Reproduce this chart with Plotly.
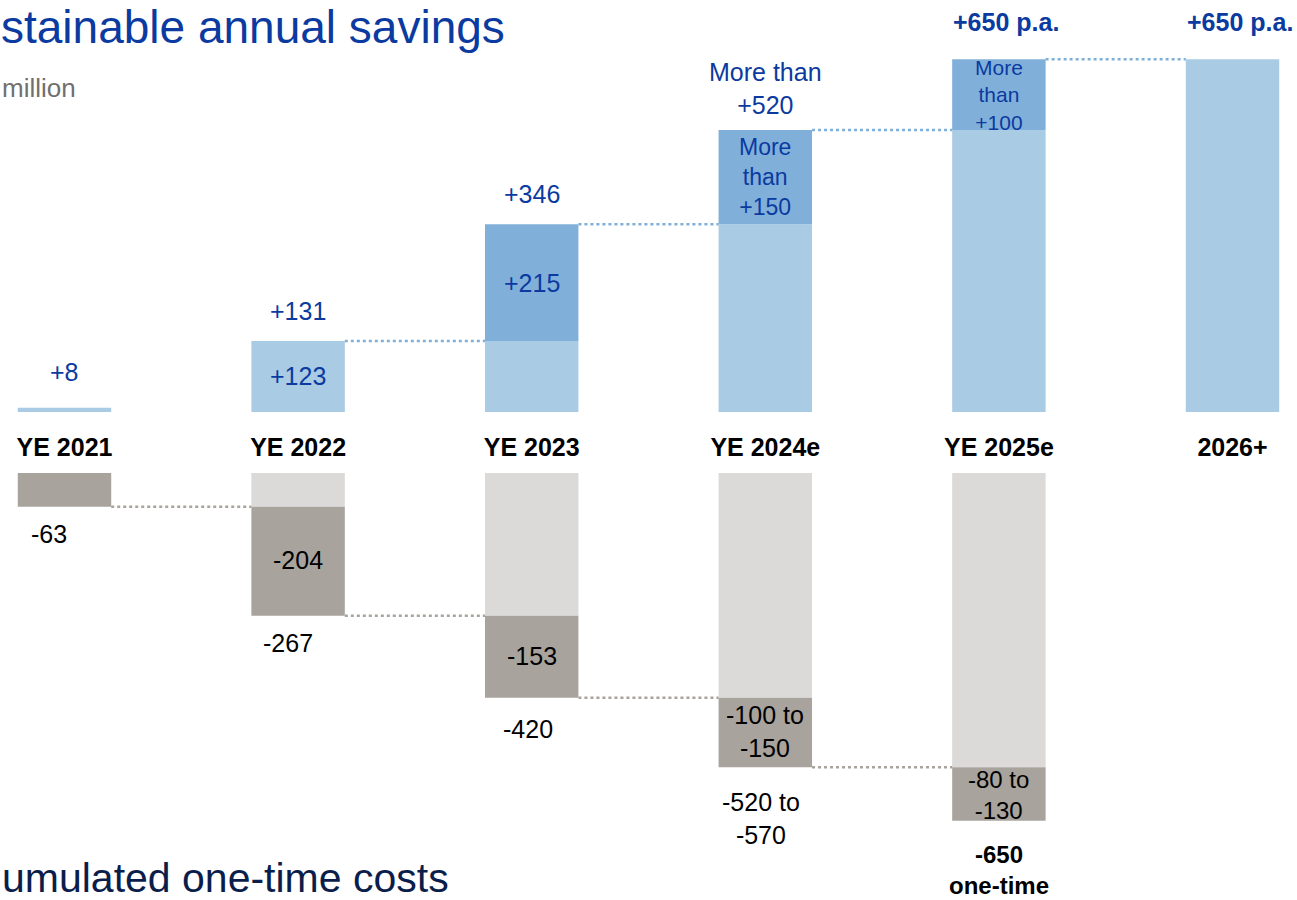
import plotly.graph_objects as go

# Data
categories = ["YE 2021", "YE 2022", "YE 2023", "YE 2024e", "YE 2025e", "2026+"]

# savings (EUR m): light part = level carried over, dark part = increment of the year
savings_light = [8, 131, 131, 346, 520, 650]
savings_step = [0, 0, 215, 174, 130, 0]
savings_total = [8, 131, 346, 520, 650, 650]
savings_total_labels = ["+8", "+131", "+346", "More than<br>+520", "<b>+650 p.a.</b>", "<b>+650 p.a.</b>"]
savings_step_labels = ["", "+123", "+215", "More<br>than<br>+150", "More<br>than<br>+100", ""]

# one-time costs (cumulated)
cost_categories = categories[:5]
cost_light = [0, -63, -267, -420, -550]
cost_step = [-63, -204, -153, -130, -100]
cost_total = [-63, -267, -420, -550, -650]
cost_total_labels = ["-63", "-267", "-420", "-520 to<br>-570", "<b>-650<br>one-time</b>"]
cost_step_labels = ["", "-204", "-153", "-100 to<br>-150", "-80 to<br>-130"]

FONT = "Liberation Sans, Arial, sans-serif"
BLUE_TXT = "#0B3AA0"
LIGHT_BLUE = "#AACBE4"
DARK_BLUE = "#80B0D9"
LIGHT_GREY = "#DBDAD8"
DARK_GREY = "#A8A39D"
W = 0.40

xs = list(range(len(categories)))
xc = list(range(len(cost_categories)))

fig = go.Figure()

# top panel bars
fig.add_trace(go.Bar(x=xs, y=savings_light, base=0, width=W,
                     marker=dict(color=LIGHT_BLUE, line_width=0),
                     xaxis="x", yaxis="y", hoverinfo="skip"))
fig.add_trace(go.Bar(x=xs, y=savings_step, base=savings_light, width=W,
                     marker=dict(color=DARK_BLUE, line_width=0),
                     xaxis="x", yaxis="y", hoverinfo="skip"))

# bottom panel bars
fig.add_trace(go.Bar(x=xc, y=cost_light, base=0, width=W,
                     marker=dict(color=LIGHT_GREY, line_width=0),
                     xaxis="x", yaxis="y2", hoverinfo="skip"))
fig.add_trace(go.Bar(x=xc, y=cost_step, base=cost_light, width=W,
                     marker=dict(color=DARK_GREY, line_width=0),
                     xaxis="x", yaxis="y2", hoverinfo="skip"))

# dotted connectors
for i in range(1, len(xs) - 1):
    fig.add_trace(go.Scatter(x=[xs[i] + W / 2, xs[i + 1] - W / 2],
                             y=[savings_total[i], savings_total[i]],
                             mode="lines", line=dict(color=DARK_BLUE, width=2.5, dash="dot"),
                             xaxis="x", yaxis="y", hoverinfo="skip"))
for i in range(len(xc) - 1):
    fig.add_trace(go.Scatter(x=[xc[i] + W / 2, xc[i + 1] - W / 2],
                             y=[cost_total[i], cost_total[i]],
                             mode="lines", line=dict(color=DARK_GREY, width=2.5, dash="dot"),
                             xaxis="x", yaxis="y2", hoverinfo="skip"))

ann = []
# labels above savings bars
top_shift = [20, 14, 14, 9, 21, 21]
for i, t in enumerate(savings_total_labels):
    bold = t.startswith("<b>")
    ann.append(dict(x=xs[i], y=savings_total[i], xref="x", yref="y", text=t,
                    showarrow=False, yanchor="bottom", yshift=top_shift[i],
                    xshift=7 if bold else 0,
                    font=dict(size=25, color=BLUE_TXT, family=FONT)))
# labels inside savings bars
for i, t in enumerate(savings_step_labels):
    if not t:
        continue
    if savings_step[i]:
        yc = savings_light[i] + savings_step[i] / 2
    else:
        yc = savings_light[i] / 2
    size = 21 if i == 4 else (23 if "<br>" in t else 25)
    ann.append(dict(x=xs[i], y=yc, xref="x", yref="y", text=t, showarrow=False,
                    font=dict(size=size, color=BLUE_TXT, family=FONT)))
# labels below cost bars
bot_shift = [-11, -11, -15, -19, -18]
bot_xshift = [-16, -10, -4, -4, 0]
for i, t in enumerate(cost_total_labels):
    ann.append(dict(x=xc[i], y=cost_total[i], xref="x", yref="y2", text=t,
                    showarrow=False, yanchor="top", yshift=bot_shift[i],
                    xshift=bot_xshift[i],
                    font=dict(size=24 if i == 4 else 25, color="#000000", family=FONT)))
# labels inside cost bars
for i, t in enumerate(cost_step_labels):
    if not t:
        continue
    ann.append(dict(x=xc[i], y=cost_light[i] + cost_step[i] / 2, xref="x", yref="y2",
                    text=t, showarrow=False, yshift=1 if i < 4 else -1,
                    font=dict(size=25 if i < 4 else 24, color="#000000", family=FONT)))

# headings (the slide is cropped at its left edge)
ann.append(dict(x=0, y=1, xref="paper", yref="paper",
                text="stainable annual savings", showarrow=False,
                xanchor="left", yanchor="top", borderpad=0,
                font=dict(size=46, color=BLUE_TXT, family=FONT)))
ann.append(dict(x=0, y=1 - 88 / 900, xref="paper", yref="paper",
                text="million", showarrow=False, xanchor="left", yanchor="middle",
                font=dict(size=26, color="#707070", family=FONT)))
ann.append(dict(x=0, y=1 - 878 / 900, xref="paper", yref="paper",
                text="umulated one-time costs", showarrow=False,
                xanchor="left", yanchor="middle",
                font=dict(size=41, color="#0B1E4B", family=FONT)))

PX = 0.5425  # pixels per EUR m
fig.update_layout(
    width=1297, height=900,
    margin=dict(l=0, r=0, t=0, b=0),
    paper_bgcolor="white", plot_bgcolor="white",
    showlegend=False, barmode="overlay",
    annotations=ann,
    xaxis=dict(domain=[0, 1], range=[-64.5 / 233.6, 5 + 64.5 / 233.6],
               tickvals=xs, ticktext=["<b>" + c + "</b>" for c in categories],
               tickfont=dict(size=25, color="#000000", family=FONT),
               showgrid=False, zeroline=False, showline=False, ticks="",
               ticklabelstandoff=18, anchor="y", fixedrange=True),
    yaxis=dict(domain=[(900 - 412) / 900, 1], range=[0, 412 / PX],
               visible=False, fixedrange=True),
    yaxis2=dict(domain=[0, (900 - 473) / 900], range=[-427 / 0.535, 0],
                visible=False, anchor="x", fixedrange=True),
)

fig.write_html("out.html", config={"displayModeBar": False},
               post_script="document.body.style.margin='0';")
